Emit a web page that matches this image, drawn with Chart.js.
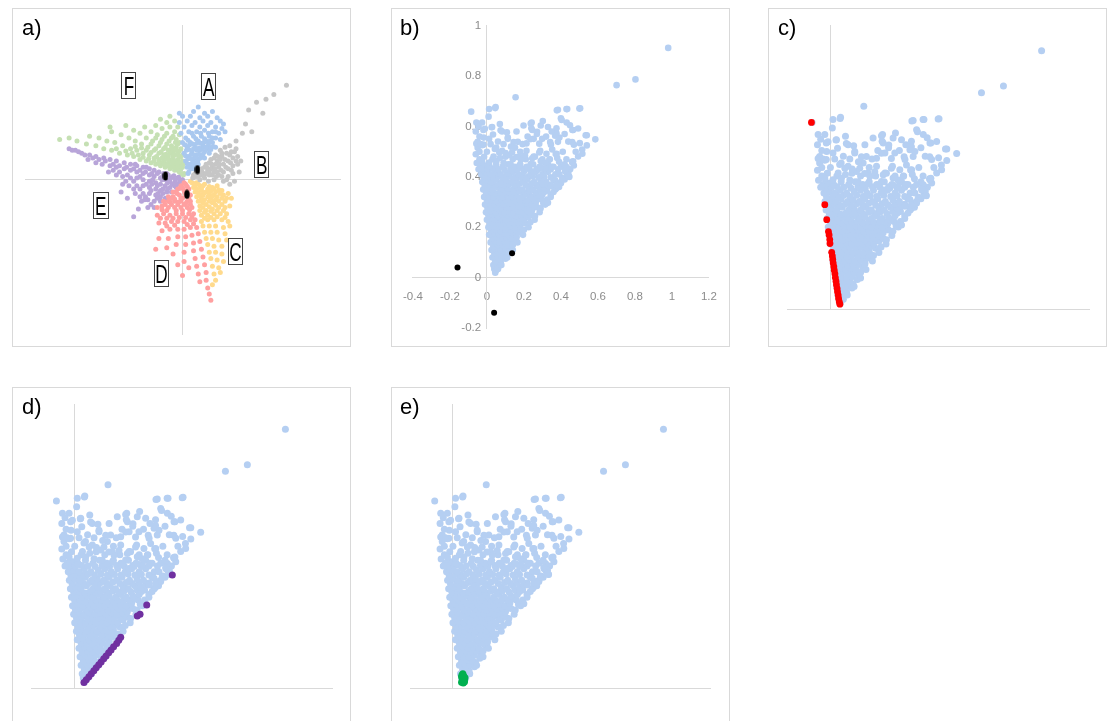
<!DOCTYPE html>
<html><head><meta charset="utf-8">
<script src="https://cdn.jsdelivr.net/npm/chart.js@4.4.1/dist/chart.umd.min.js"></script>
<style>
html,body{margin:0;padding:0;background:#fff;}
body{width:1112px;height:721px;overflow:hidden;position:relative;font-family:'Liberation Sans',Arial,sans-serif;}
.box{position:absolute;border:1px solid #d9d9d9;box-sizing:border-box;}
canvas{position:absolute;}
.tag{position:absolute;font-size:22px;line-height:22px;color:#000;white-space:nowrap;}
.lab{position:absolute;width:15px;height:27px;box-sizing:border-box;border:1px solid #444;background:#fff;color:#000;display:flex;justify-content:center;align-items:center;overflow:visible;}
.lab span{display:inline-block;font-family:'Liberation Sans',Arial,sans-serif;font-size:26px;line-height:26px;transform:scaleX(0.66);transform-origin:50% 50%;white-space:nowrap;}
</style></head>
<body>
<div class="box" style="left:12px;top:8px;width:339px;height:339px"></div>
<div class="box" style="left:391px;top:8px;width:339px;height:339px"></div>
<div class="box" style="left:768px;top:8px;width:339px;height:339px"></div>
<div class="box" style="left:12px;top:387px;width:339px;height:340px"></div>
<div class="box" style="left:391px;top:387px;width:339px;height:340px"></div>
<canvas id="ca" width="339" height="339" style="left:12px;top:8px"></canvas>
<canvas id="cb" width="339" height="339" style="left:391px;top:8px"></canvas>
<canvas id="cc" width="339" height="339" style="left:768px;top:8px"></canvas>
<canvas id="cd" width="339" height="340" style="left:12px;top:387px"></canvas>
<canvas id="ce" width="339" height="340" style="left:391px;top:387px"></canvas>
<div class="tag" style="left:22px;top:17px">a)</div>
<div class="tag" style="left:400px;top:17px">b)</div>
<div class="tag" style="left:778px;top:17px">c)</div>
<div class="tag" style="left:22px;top:396px">d)</div>
<div class="tag" style="left:400px;top:396px">e)</div>
<div class="lab" style="left:121px;top:72px"><span>F</span></div>
<div class="lab" style="left:201px;top:73px"><span>A</span></div>
<div class="lab" style="left:254px;top:151px"><span>B</span></div>
<div class="lab" style="left:93px;top:192px;width:16px"><span>E</span></div>
<div class="lab" style="left:228px;top:238px"><span>C</span></div>
<div class="lab" style="left:154px;top:260px"><span>D</span></div>
<script>
// ---------- DATA ----------
const bXTicks = [-0.4,-0.2,0,0.2,0.4,0.6,0.8,1,1.2];
const bXTickLabels = ['-0.4','-0.2','0','0.2','0.4','0.6','0.8','1','1.2'];
const bYTicks = [-0.2,0,0.2,0.4,0.6,0.8,1];
const bYTickLabels = ['-0.2','0','0.2','0.4','0.6','0.8','1'];

// panel a: six sectors + three centroids
const sectorA = [[0.04,0.05],[0.06,0.07],[0.03,0.08],[0.05,0.10],[0.08,0.10],[0.02,0.12],[0.07,0.13],[0.10,0.13],[0.04,0.15],[0.09,0.16],[0.12,0.15],[0.01,0.17],[0.06,0.18],[0.11,0.19],[0.14,0.18],[0.03,0.21],[0.08,0.21],[0.13,0.22],[0.17,0.21],[0.00,0.24],[0.05,0.24],[0.10,0.25],[0.15,0.25],[0.19,0.24],[0.02,0.27],[0.07,0.28],[0.12,0.28],[0.17,0.28],[0.21,0.27],[-0.01,0.30],[0.04,0.31],[0.09,0.31],[0.14,0.32],[0.19,0.31],[0.23,0.30],[0.01,0.34],[0.06,0.35],[0.11,0.34],[0.16,0.35],[0.21,0.34],[0.25,0.33],[-0.02,0.37],[0.03,0.38],[0.08,0.37],[0.13,0.38],[0.18,0.37],[0.24,0.38],[0.00,0.41],[0.05,0.41],[0.11,0.40],[0.16,0.41],[0.22,0.40],[-0.02,0.43],[0.07,0.44],[0.14,0.43],[0.10,0.47],[0.19,0.44],[0.26,0.36],[0.27,0.31],[0.07,0.07],[0.10,0.10],[0.14,0.14],[0.17,0.17],[0.21,0.21],[0.24,0.26],[0.05,0.075],[0.065,0.115],[0.035,0.135],[0.085,0.145],[0.055,0.165],[0.105,0.165],[0.025,0.19],[0.09,0.19],[0.125,0.2],[0.155,0.195],[0.045,0.225],[0.115,0.235],[0.165,0.23],[0.195,0.215],
[0.035,0.04],[0.045,0.09],[0.075,0.085],[0.03,0.105],[0.095,0.115],[0.055,0.135],[0.115,0.14],[0.02,0.155],[0.075,0.16],[0.13,0.165],[0.04,0.195],[0.07,0.2],[0.105,0.205],[0.15,0.21],[0.18,0.195],[0.015,0.225],[0.065,0.23],[0.09,0.235],[0.135,0.24],[0.175,0.25],[0.035,0.255],[0.085,0.265],[0.14,0.265],[0.19,0.27],[0.06,0.3],[0.115,0.3],[0.165,0.3],[0.21,0.31]];
const sectorB = [[0.07,0.03],[0.09,0.05],[0.10,0.02],[0.12,0.07],[0.13,0.04],[0.14,0.01],[0.15,0.10],[0.16,0.06],[0.17,0.03],[0.18,0.13],[0.19,0.09],[0.20,0.05],[0.20,0.00],[0.21,0.16],[0.22,0.12],[0.23,0.08],[0.23,0.03],[0.24,0.19],[0.25,0.15],[0.26,0.10],[0.26,0.05],[0.26,-0.01],[0.27,0.21],[0.28,0.17],[0.29,0.12],[0.29,0.07],[0.29,0.02],[0.30,0.22],[0.31,0.18],[0.32,0.14],[0.32,0.09],[0.32,0.04],[0.33,-0.01],[0.34,0.20],[0.35,0.15],[0.35,0.10],[0.36,0.05],[0.37,0.12],[0.34,0.25],[0.30,-0.03],[0.38,0.30],[0.40,0.36],[0.44,0.31],[0.47,0.50],[0.53,0.52],[0.66,0.61],[0.51,0.43],[0.42,0.45],[0.58,0.55],[0.08,0.04],[0.11,0.06],[0.12,0.03],[0.14,0.08],[0.17,0.11],[0.18,0.07],[0.21,0.10],[0.22,0.05],[0.24,0.13],[0.25,0.02],
[0.065,0.01],[0.085,0.02],[0.10,0.04],[0.11,0.00],[0.125,0.05],[0.135,0.025],[0.15,0.04],[0.155,0.08],[0.165,-0.01],[0.17,0.05],[0.185,0.10],[0.19,0.03],[0.20,0.14],[0.205,0.07],[0.215,0.02],[0.225,0.15],[0.235,0.10],[0.245,0.06],[0.25,0.17],[0.27,0.13],[0.275,0.08],[0.28,0.00],[0.30,0.16],[0.305,0.11],[0.31,0.06],[0.33,0.18],[0.34,0.12]];
const sectorC = [[0.06,-0.02],[0.09,-0.02],[0.07,-0.05],[0.11,-0.04],[0.14,-0.03],[0.08,-0.08],[0.12,-0.07],[0.16,-0.06],[0.19,-0.05],[0.22,-0.04],[0.09,-0.11],[0.13,-0.10],[0.17,-0.09],[0.21,-0.08],[0.25,-0.07],[0.10,-0.14],[0.14,-0.13],[0.18,-0.12],[0.22,-0.11],[0.26,-0.10],[0.29,-0.09],[0.11,-0.17],[0.15,-0.16],[0.19,-0.15],[0.23,-0.14],[0.27,-0.14],[0.11,-0.20],[0.15,-0.20],[0.19,-0.19],[0.23,-0.18],[0.27,-0.18],[0.30,-0.17],[0.12,-0.23],[0.16,-0.23],[0.20,-0.22],[0.24,-0.22],[0.28,-0.22],[0.12,-0.27],[0.16,-0.26],[0.20,-0.26],[0.25,-0.26],[0.29,-0.27],[0.13,-0.30],[0.17,-0.30],[0.21,-0.30],[0.26,-0.31],[0.14,-0.34],[0.18,-0.34],[0.22,-0.34],[0.27,-0.35],[0.15,-0.38],[0.19,-0.38],[0.23,-0.39],[0.28,-0.39],[0.16,-0.42],[0.20,-0.43],[0.25,-0.43],[0.17,-0.47],[0.21,-0.47],[0.25,-0.48],[0.18,-0.51],[0.22,-0.52],[0.26,-0.53],[0.19,-0.56],[0.23,-0.57],[0.20,-0.61],[0.24,-0.60],[0.21,-0.65],[0.19,-0.68],[0.30,-0.30],[0.31,-0.12],[0.08,-0.035],[0.12,-0.055],[0.10,-0.085],[0.15,-0.08],[0.12,-0.12],[0.16,-0.11],[0.20,-0.10],[0.13,-0.15],[0.17,-0.14],[0.21,-0.13],
[0.05,-0.01],[0.07,-0.025],[0.10,-0.03],[0.13,-0.04],[0.17,-0.045],[0.20,-0.06],[0.23,-0.065],[0.09,-0.06],[0.14,-0.085],[0.18,-0.075],[0.24,-0.09],[0.11,-0.10],[0.19,-0.105],[0.25,-0.12],[0.12,-0.14],[0.20,-0.14],[0.28,-0.12],[0.13,-0.18],[0.17,-0.175],[0.21,-0.165],[0.25,-0.16],[0.14,-0.21],[0.18,-0.205],[0.22,-0.20],[0.26,-0.20],[0.14,-0.25],[0.18,-0.245],[0.22,-0.24],[0.27,-0.245]];
const sectorD = [[0.02,-0.03],[-0.01,-0.04],[0.04,-0.06],[0.01,-0.07],[-0.03,-0.06],[-0.06,-0.08],[0.05,-0.10],[0.02,-0.10],[-0.02,-0.10],[-0.06,-0.11],[-0.09,-0.11],[0.05,-0.14],[0.03,-0.14],[-0.01,-0.14],[-0.05,-0.14],[-0.09,-0.14],[-0.12,-0.14],[0.06,-0.18],[0.03,-0.18],[-0.01,-0.18],[-0.05,-0.18],[-0.09,-0.18],[-0.13,-0.17],[-0.16,-0.18],[0.07,-0.22],[0.04,-0.22],[0.00,-0.22],[-0.04,-0.22],[-0.08,-0.23],[-0.12,-0.22],[-0.16,-0.23],[0.08,-0.26],[0.05,-0.26],[0.01,-0.27],[-0.03,-0.27],[-0.07,-0.27],[-0.11,-0.28],[-0.15,-0.28],[0.09,-0.31],[0.05,-0.31],[0.01,-0.32],[-0.03,-0.32],[-0.08,-0.32],[-0.13,-0.33],[0.10,-0.35],[0.06,-0.36],[0.02,-0.37],[-0.03,-0.37],[-0.09,-0.38],[-0.15,-0.38],[0.11,-0.40],[0.07,-0.41],[0.02,-0.42],[-0.04,-0.42],[-0.10,-0.44],[0.12,-0.45],[0.07,-0.46],[0.01,-0.47],[-0.06,-0.48],[-0.17,-0.45],[0.13,-0.50],[0.08,-0.51],[0.01,-0.53],[0.14,-0.55],[0.09,-0.56],[0.04,-0.57],[0.15,-0.60],[0.10,-0.61],[0.15,-0.65],[0.11,-0.66],[0.16,-0.70],[0.17,-0.74],[0.18,-0.78],[-0.03,-0.55],[0.00,-0.62],[0.00,-0.05],[0.03,-0.08],[-0.04,-0.08],[0.00,-0.12],[0.04,-0.12],[-0.07,-0.12],[-0.03,-0.16],[0.01,-0.16],[0.05,-0.16],[-0.07,-0.16],[-0.11,-0.16],
[0.01,-0.02],[0.03,-0.045],[-0.015,-0.055],[0.015,-0.085],[-0.035,-0.09],[0.035,-0.11],[-0.01,-0.12],[-0.05,-0.125],[0.02,-0.155],[-0.025,-0.145],[-0.08,-0.145],[0.045,-0.195],[0.00,-0.20],[-0.04,-0.20],[-0.10,-0.20],[-0.13,-0.195],[0.06,-0.24],[0.02,-0.245],[-0.02,-0.245],[-0.06,-0.25],[-0.10,-0.25],[-0.14,-0.25],[0.07,-0.285],[0.03,-0.29],[-0.05,-0.295],[-0.10,-0.30]];
const sectorE = [[0.00,0.00],[-0.03,0.01],[-0.02,-0.02],[-0.06,0.02],[-0.05,-0.02],[-0.04,-0.05],[-0.09,0.03],[-0.08,-0.01],[-0.08,-0.05],[-0.07,-0.08],[-0.12,0.04],[-0.11,0.00],[-0.11,-0.04],[-0.10,-0.08],[-0.11,-0.12],[-0.15,0.05],[-0.14,0.01],[-0.14,-0.03],[-0.14,-0.07],[-0.14,-0.11],[-0.14,-0.14],[-0.18,0.06],[-0.18,0.02],[-0.17,-0.02],[-0.17,-0.06],[-0.17,-0.10],[-0.18,-0.14],[-0.18,-0.18],[-0.21,0.07],[-0.21,0.03],[-0.21,-0.01],[-0.21,-0.05],[-0.21,-0.09],[-0.22,-0.13],[-0.22,-0.18],[-0.25,0.08],[-0.25,0.04],[-0.25,0.00],[-0.25,-0.04],[-0.25,-0.09],[-0.26,-0.14],[-0.29,0.09],[-0.29,0.05],[-0.29,0.01],[-0.29,-0.04],[-0.30,-0.09],[-0.33,0.10],[-0.33,0.06],[-0.33,0.01],[-0.34,-0.04],[-0.37,0.11],[-0.37,0.07],[-0.38,0.02],[-0.38,-0.03],[-0.42,0.12],[-0.42,0.08],[-0.42,0.03],[-0.46,0.13],[-0.46,0.09],[-0.47,0.05],[-0.50,0.14],[-0.51,0.10],[-0.55,0.15],[-0.55,0.11],[-0.59,0.16],[-0.60,0.13],[-0.64,0.17],[-0.68,0.19],[-0.72,0.20],[-0.31,-0.24],[-0.35,-0.12],[-0.28,-0.19],[-0.39,-0.08],[-0.015,0.00],[-0.045,0.00],[-0.035,-0.03],[-0.075,0.01],[-0.065,-0.03],[-0.095,-0.02],[-0.125,0.02],[-0.125,-0.06],[-0.155,-0.09],[-0.195,0.04],[-0.195,-0.03],[-0.235,0.05],[-0.235,-0.11],[-0.27,0.06],[-0.27,-0.06],[-0.31,0.07],[-0.31,-0.01],[-0.355,0.08],[-0.40,0.09],[-0.44,0.10],
[-0.01,-0.01],[-0.025,0.015],[-0.055,0.025],[-0.05,-0.04],[-0.085,0.00],[-0.10,0.04],[-0.095,-0.06],[-0.13,0.00],[-0.125,-0.09],[-0.16,0.04],[-0.16,-0.04],[-0.16,-0.12],[-0.19,0.00],[-0.20,-0.07],[-0.20,-0.16],[-0.23,0.08],[-0.23,-0.03],[-0.24,-0.13],[-0.27,0.02],[-0.27,-0.11],[-0.30,0.10],[-0.31,-0.06],[-0.35,0.03],[-0.36,-0.01],[-0.40,0.05],[-0.44,0.06],[-0.49,0.12],[-0.53,0.13],[-0.57,0.14],[-0.62,0.16],[-0.66,0.18],[-0.70,0.19]];
const sectorF = [[0.01,0.04],[-0.02,0.05],[0.00,0.08],[-0.05,0.06],[-0.03,0.09],[0.00,0.12],[-0.08,0.07],[-0.06,0.10],[-0.03,0.13],[0.00,0.16],[-0.11,0.08],[-0.09,0.11],[-0.06,0.14],[-0.03,0.17],[-0.01,0.20],[-0.14,0.09],[-0.12,0.12],[-0.09,0.15],[-0.06,0.18],[-0.04,0.21],[-0.02,0.24],[-0.17,0.10],[-0.15,0.13],[-0.12,0.16],[-0.09,0.19],[-0.07,0.22],[-0.04,0.26],[-0.02,0.29],[-0.20,0.11],[-0.18,0.14],[-0.15,0.17],[-0.12,0.20],[-0.10,0.23],[-0.07,0.27],[-0.05,0.31],[-0.03,0.34],[-0.23,0.12],[-0.21,0.16],[-0.18,0.19],[-0.15,0.22],[-0.13,0.26],[-0.10,0.30],[-0.08,0.34],[-0.05,0.38],[-0.27,0.13],[-0.25,0.17],[-0.22,0.21],[-0.19,0.25],[-0.16,0.29],[-0.13,0.33],[-0.10,0.37],[-0.31,0.15],[-0.29,0.19],[-0.26,0.23],[-0.23,0.27],[-0.20,0.31],[-0.17,0.35],[-0.35,0.16],[-0.33,0.20],[-0.30,0.25],[-0.27,0.30],[-0.24,0.34],[-0.40,0.17],[-0.38,0.22],[-0.34,0.27],[-0.31,0.32],[-0.45,0.19],[-0.43,0.24],[-0.39,0.29],[-0.36,0.35],[-0.50,0.20],[-0.48,0.25],[-0.45,0.31],[-0.55,0.22],[-0.53,0.27],[-0.61,0.23],[-0.59,0.28],[-0.67,0.25],[-0.72,0.27],[-0.78,0.26],[-0.14,0.39],[-0.08,0.41],[-0.46,0.34],[-0.01,0.07],[-0.04,0.08],[-0.02,0.11],[-0.07,0.09],[-0.045,0.12],[-0.015,0.145],[-0.10,0.10],[-0.075,0.125],[-0.05,0.16],[-0.02,0.185],[-0.13,0.11],[-0.105,0.14],[-0.08,0.17],[-0.055,0.20],[-0.03,0.23],
[0.005,0.03],[-0.01,0.04],[-0.03,0.06],[0.005,0.10],[-0.015,0.085],[-0.06,0.08],[-0.035,0.105],[-0.09,0.09],[-0.065,0.115],[-0.025,0.155],[-0.115,0.10],[-0.09,0.13],[-0.06,0.155],[-0.04,0.19],[-0.15,0.11],[-0.13,0.14],[-0.105,0.165],[-0.07,0.20],[-0.045,0.24],[-0.18,0.12],[-0.165,0.15],[-0.135,0.18],[-0.11,0.21],[-0.085,0.25],[-0.06,0.28],[-0.215,0.135],[-0.20,0.175],[-0.17,0.20],[-0.14,0.24],[-0.115,0.28],[-0.25,0.145],[-0.23,0.19],[-0.20,0.23],[-0.17,0.27],[-0.28,0.16],[-0.26,0.205],[-0.32,0.17],[-0.30,0.215],[-0.36,0.185],[-0.42,0.20]];
const centroidsA = [[0.095,0.065],[-0.108,0.024],[0.028,-0.095]];

// panels b-e: the shared point cloud
const cloudPoints = [
[0.045,0.02],[0.04,0.035],[0.05,0.03],[0.035,0.05],[0.06,0.05],[0.075,0.06],[0.045,0.065],[0.065,0.07],[0.06,0.035],[0.078,0.05],
[0.03,0.08],[0.055,0.085],[0.08,0.08],[0.105,0.09],[0.04,0.095],[0.065,0.1],[0.09,0.098],[0.10,0.075],[0.11,0.08],
[0.025,0.11],[0.05,0.115],[0.075,0.11],[0.10,0.115],[0.13,0.12],[0.035,0.125],[0.06,0.13],[0.085,0.128],[0.11,0.13],[0.125,0.105],[0.14,0.11],
[0.02,0.14],[0.045,0.145],[0.07,0.14],[0.095,0.145],[0.12,0.14],[0.15,0.15],[0.03,0.158],[0.055,0.16],[0.08,0.155],[0.105,0.16],[0.13,0.158],[0.16,0.165],[0.14,0.13],[0.165,0.14],
[0.012,0.17],[0.04,0.175],[0.065,0.17],[0.09,0.175],[0.115,0.17],[0.14,0.175],[0.17,0.18],[0.19,0.19],[0.022,0.188],[0.05,0.19],[0.075,0.185],[0.10,0.19],[0.128,0.188],[0.155,0.19],[0.178,0.195],[0.16,0.16],[0.195,0.17],
[0.008,0.20],[0.03,0.205],[0.055,0.2],[0.08,0.205],[0.105,0.2],[0.13,0.205],[0.155,0.2],[0.18,0.205],[0.21,0.215],[0.015,0.218],[0.04,0.22],[0.065,0.215],[0.09,0.22],[0.118,0.218],[0.142,0.22],[0.168,0.218],[0.192,0.222],[0.20,0.19],[0.225,0.2],
[0.0,0.23],[0.025,0.235],[0.05,0.23],[0.075,0.235],[0.10,0.23],[0.125,0.235],[0.15,0.23],[0.175,0.235],[0.20,0.23],[0.225,0.24],[0.245,0.25],[0.008,0.248],[0.033,0.25],[0.06,0.245],[0.085,0.25],[0.11,0.248],[0.135,0.25],[0.16,0.245],[0.185,0.25],[0.21,0.25],[0.232,0.258],[0.235,0.22],[0.258,0.23],
[-0.005,0.26],[0.02,0.265],[0.045,0.26],[0.07,0.265],[0.095,0.26],[0.12,0.265],[0.145,0.26],[0.17,0.265],[0.195,0.26],[0.22,0.265],[0.245,0.27],[0.27,0.28],[0.003,0.278],[0.028,0.28],[0.055,0.275],[0.08,0.28],[0.105,0.278],[0.13,0.28],[0.155,0.275],[0.18,0.28],[0.205,0.278],[0.23,0.282],[0.255,0.285],[0.26,0.245],[0.285,0.26],
[-0.01,0.29],[0.015,0.295],[0.04,0.29],[0.065,0.295],[0.09,0.29],[0.115,0.295],[0.14,0.29],[0.165,0.295],[0.19,0.29],[0.215,0.295],[0.24,0.29],[0.265,0.3],[0.295,0.31],[0.0,0.308],[0.025,0.31],[0.05,0.305],[0.078,0.31],[0.1,0.308],[0.125,0.31],[0.15,0.305],[0.178,0.31],[0.2,0.308],[0.228,0.31],[0.255,0.308],[0.28,0.315],[0.29,0.275],[0.315,0.29],[0.305,0.295],
[-0.015,0.32],[0.01,0.325],[0.035,0.32],[0.06,0.325],[0.085,0.32],[0.11,0.33],[0.135,0.32],[0.16,0.325],[0.19,0.32],[0.215,0.33],[0.24,0.32],[0.27,0.325],[0.30,0.33],[0.325,0.345],[-0.005,0.338],[0.022,0.34],[0.048,0.335],[0.072,0.34],[0.098,0.338],[0.122,0.34],[0.15,0.338],[0.178,0.342],[0.205,0.338],[0.23,0.342],[0.262,0.338],[0.29,0.345],[0.31,0.34],[0.325,0.31],[0.345,0.32],[0.32,0.30],
[-0.02,0.35],[0.005,0.355],[0.03,0.35],[0.055,0.36],[0.085,0.35],[0.11,0.355],[0.14,0.35],[0.165,0.36],[0.19,0.35],[0.225,0.355],[0.25,0.35],[0.28,0.36],[0.31,0.355],[0.345,0.37],[-0.012,0.368],[0.018,0.37],[0.042,0.368],[0.07,0.372],[0.095,0.368],[0.122,0.372],[0.15,0.368],[0.178,0.374],[0.21,0.368],[0.24,0.372],[0.268,0.368],[0.3,0.372],[0.33,0.365],[0.345,0.33],[0.37,0.35],[0.36,0.34],
[-0.025,0.38],[0.0,0.385],[0.025,0.38],[0.05,0.39],[0.08,0.38],[0.105,0.385],[0.135,0.38],[0.16,0.39],[0.195,0.38],[0.22,0.39],[0.255,0.38],[0.29,0.385],[0.32,0.38],[0.36,0.39],[0.38,0.375],[-0.018,0.398],[0.012,0.4],[0.038,0.398],[0.062,0.402],[0.092,0.398],[0.122,0.402],[0.152,0.398],[0.185,0.4],[0.215,0.398],[0.248,0.402],[0.28,0.398],[0.31,0.4],[0.345,0.398],[0.39,0.36],[0.40,0.38],[0.375,0.355],
[-0.03,0.41],[-0.005,0.415],[0.02,0.41],[0.045,0.42],[0.075,0.41],[0.11,0.415],[0.14,0.42],[0.17,0.41],[0.20,0.42],[0.235,0.41],[0.265,0.42],[0.30,0.41],[0.33,0.42],[0.37,0.41],[0.41,0.395],[0.445,0.40],[-0.022,0.428],[0.005,0.43],[0.032,0.432],[0.062,0.43],[0.095,0.428],[0.128,0.432],[0.162,0.428],[0.195,0.432],[0.23,0.43],[0.27,0.432],[0.31,0.428],[0.345,0.43],[0.385,0.43],[0.42,0.39],[0.435,0.41],[0.40,0.375],
[-0.035,0.44],[-0.01,0.445],[0.015,0.44],[0.05,0.45],[0.085,0.44],[0.115,0.45],[0.15,0.44],[0.18,0.45],[0.215,0.44],[0.25,0.45],[0.285,0.44],[0.33,0.45],[0.36,0.44],[0.40,0.44],[0.425,0.42],[0.45,0.43],[0.44,0.415],
[-0.04,0.47],[-0.015,0.48],[0.03,0.47],[0.07,0.475],[0.10,0.48],[0.14,0.47],[0.175,0.48],[0.21,0.47],[0.26,0.48],[0.30,0.47],[0.34,0.47],[0.38,0.475],[0.43,0.47],[0.46,0.46],[0.47,0.445],
[-0.085,0.659],[-0.057,0.616],[-0.026,0.616],[0.012,0.669],[0.047,0.677],[0.155,0.716],[0.009,0.639],[-0.019,0.586],[-0.05,0.539],[-0.05,0.516],[-0.019,0.528],[0.012,0.551],[0.028,0.598],[0.07,0.61],[0.082,0.58],[0.113,0.551],[0.16,0.58],[0.198,0.604],[0.242,0.616],[0.245,0.586],[0.291,0.604],[0.33,0.598],[0.384,0.666],[0.434,0.669],[0.504,0.672],[0.40,0.633],[0.431,0.616],[0.462,0.586],[0.493,0.592],[0.54,0.565],[0.586,0.549],[0.54,0.525],[0.502,0.534],[0.47,0.528],[0.516,0.492],[0.493,0.481],[0.462,0.457],[0.431,0.439],[0.423,0.424],[0.392,0.41],[0.369,0.387],[0.346,0.363],[0.384,0.539],[0.369,0.563],[0.346,0.528],[0.377,0.492],[0.338,0.469],[0.322,0.492],[0.288,0.504],[0.299,0.551],[0.253,0.551],[0.214,0.533],[0.167,0.539],[0.152,0.516],[0.214,0.504],[0.253,0.481],[0.291,0.463],[0.315,0.434],[0.276,0.428],[0.237,0.451],[0.183,0.469],[0.121,0.486],[0.082,0.504],[0.05,0.516],[0.036,0.481],[0.012,0.457],[-0.019,0.445],
[0.026,0.597],[0.108,0.577],[0.237,0.612],[0.24,0.593],[0.271,0.579],[0.302,0.622],[0.376,0.593],[0.404,0.626],[0.449,0.605],[0.466,0.586],[0.534,0.565],[0.515,0.509],[0.466,0.462],[0.444,0.401],[0.407,0.391],[0.376,0.368],[0.330,0.297],[0.461,0.538],[0.392,0.556],[0.376,0.573],[0.342,0.538],[0.372,0.491],[0.353,0.509],[0.283,0.532],[0.237,0.55],[0.193,0.53],[0.144,0.538],[0.113,0.556],[0.074,0.585],[0.033,0.568],[-0.011,0.591],[-0.017,0.556],[-0.057,0.532],[-0.026,0.526],[0.043,0.511],[0.067,0.497],[0.101,0.495],[0.136,0.497],[0.159,0.479],[0.206,0.485],[0.245,0.474],[0.283,0.497],[0.314,0.456],[0.291,0.438],[0.252,0.421],[0.221,0.438],[0.175,0.444],[0.128,0.45],[0.09,0.456],[0.051,0.462],[-0.026,0.462],[-0.029,0.432],[0.0,0.50],[-0.04,0.50],[0.02,0.53],[0.06,0.54],[0.09,0.53],[0.13,0.52],[0.18,0.50],[0.22,0.56],[0.27,0.57],[0.32,0.56],[0.35,0.58],[0.42,0.57],[0.44,0.54],[0.48,0.50],[0.41,0.50],[0.39,0.46],[0.35,0.44],[0.42,0.45],
[-0.06,0.58],[-0.045,0.60],[-0.04,0.56],[-0.06,0.49],[-0.035,0.53],[-0.055,0.455],[-0.045,0.43],
[0.98,0.912],[0.803,0.787],[0.701,0.764],[0.5,0.671],[0.43,0.669],[0.378,0.664],[0.045,0.673]
];
const bBlackPoints = [[-0.159,0.040],[0.136,0.097],[0.039,-0.139]];
const cRedPoints = [[-0.088,0.659],[-0.026,0.369],[-0.017,0.316],[-0.009,0.274],[-0.006,0.262],[-0.003,0.246],[-0.002,0.232],[0.006,0.201],[0.009,0.188],[0.011,0.176],[0.013,0.163],[0.016,0.150],[0.018,0.138],[0.021,0.125],[0.023,0.112],[0.026,0.099],[0.028,0.087],[0.031,0.074],[0.033,0.062],[0.036,0.050],[0.038,0.038],[0.041,0.027],[0.044,0.018]];
const dPurplePoints = [[0.043,0.019],[0.054,0.029],[0.066,0.040],[0.077,0.050],[0.089,0.061],[0.100,0.071],[0.112,0.082],[0.123,0.092],[0.135,0.103],[0.146,0.113],[0.158,0.124],[0.169,0.134],[0.181,0.145],[0.195,0.157],[0.205,0.168],[0.214,0.179],[0.291,0.254],[0.304,0.260],[0.335,0.293],[0.454,0.398]];
const eGreenPoints = [[0.040,0.020],[0.048,0.018],[0.044,0.030],[0.052,0.028],[0.040,0.040],[0.050,0.042],[0.056,0.036],[0.046,0.050],[0.042,0.046],[0.054,0.022]];

// ---------- CHARTS ----------
const tickFont = {family: "'Liberation Sans', Arial, sans-serif", size: 11.5};
const AXIS_COLOR = '#d9d9d9';
const CLOUD = '#b5cff2';

function set(data, color, r, order, style) {
  return {data, backgroundColor: color, borderWidth: 0, pointRadius: r, pointHoverRadius: r,
          pointStyle: style || 'circle', order, clip: false};
}
function axis(min, max, pos, tickVals, tickLabels, padding, suffix) {
  const o = {type: 'linear', min, max, position: pos,
    grid: {display: false, drawTicks: false},
    border: {display: true, color: AXIS_COLOR, width: 1},
    ticks: {display: false}};
  if (tickVals) {
    o.ticks = {display: true, color: '#8c8c8c', font: tickFont, padding, autoSkip: false, maxRotation: 0,
      callback: v => { const i = tickVals.findIndex(t => Math.abs(t - v) < 1e-9); return i >= 0 ? tickLabels[i] + (suffix || '') : ''; }};
    o.afterBuildTicks = s => { s.ticks = tickVals.map(v => ({value: v})); };
  }
  return o;
}
function make(id, padding, xa, ya, datasets) {
  return new Chart(document.getElementById(id), {
    type: 'scatter', data: {datasets},
    options: {responsive: false, animation: false, devicePixelRatio: 1, events: [],
      layout: {padding},
      plugins: {legend: {display: false}, tooltip: {enabled: false}},
      scales: {x: xa, y: ya}}
  });
}

// ellipse marker for the centroids in panel a
const ell = document.createElement('canvas');
ell.width = 6; ell.height = 10;
const ec = ell.getContext('2d');
ec.fillStyle = '#000'; ec.beginPath(); ec.ellipse(3, 5, 2.7, 4.6, 0, 0, Math.PI * 2); ec.fill();

const SR = 2.5;
make('ca', {left: 13, right: 11, top: 17, bottom: 12.7},
  axis(-1, 1, {y: 0}), axis(-1, 1, {x: 0}),
  [set(centroidsA, '#000', 4, 0, ell),
   set(sectorA, '#a9c8ef', SR, 1), set(sectorB, '#c6c6c6', SR, 1), set(sectorC, '#ffda8c', SR, 1),
   set(sectorD, '#ffa0a0', SR, 1), set(sectorE, '#b8a5d9', SR, 1), set(sectorF, '#c5e0b3', SR, 1)]);

make('cb', {left: 20.3, right: 21.1, top: 17.7, bottom: 18.9},
  axis(-0.4, 1.2, {y: 0}, bXTicks, bXTickLabels, 12), axis(-0.2, 1, {x: 0}, bYTicks, bYTickLabels, 5, '\u2002'),
  [set(bBlackPoints, '#000', 3, 0), set(cloudPoints, CLOUD, 3.3, 1)]);

make('cc', {left: 19.3, right: 18, top: 17.7, bottom: 37.7},
  axis(-0.2, 1.2, {y: 0}), axis(0, 1, {x: 0}),
  [set(cRedPoints, '#ff0000', 3.4, 0), set(cloudPoints, CLOUD, 3.5, 1)]);

make('cd', {left: 19.7, right: 18.3, top: 17.3, bottom: 39},
  axis(-0.2, 1.2, {y: 0}), axis(0, 1, {x: 0}),
  [set(dPurplePoints, '#7030a0', 3.5, 0), set(cloudPoints, CLOUD, 3.5, 1)]);

make('ce', {left: 19, right: 19.3, top: 17.3, bottom: 39},
  axis(-0.2, 1.2, {y: 0}), axis(0, 1, {x: 0}),
  [set(eGreenPoints, '#00b050', 3.5, 0), set(cloudPoints, CLOUD, 3.5, 1)]);
</script>
</body></html>
